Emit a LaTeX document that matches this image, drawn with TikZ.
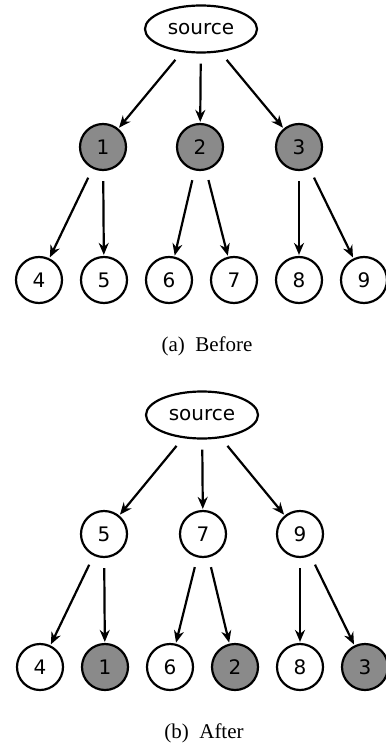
\documentclass[tikz,border=0pt]{standalone}
\usepackage{fontspec}
\setmainfont{Liberation Serif}
\setsansfont{DejaVu Sans}
\usetikzlibrary{arrows.meta,positioning,shapes.geometric}
\definecolor{nodegray}{RGB}{138,138,138}

\begin{document}
\begin{tikzpicture}[x=0.5pt,y=-0.5pt,
  vertex/.style={circle,draw,line width=1.1pt,minimum size=23pt,inner sep=0pt,font=\sffamily},
  moved/.style={vertex,fill=nodegray},
  srcnode/.style={ellipse,draw,line width=1.1pt,minimum width=56pt,minimum height=23.5pt,inner sep=0pt,font=\sffamily},
  link/.style={-{Stealth[length=6pt,width=5pt]},line width=1.1pt,shorten <=5pt,shorten >=0.5pt},
  caption/.style={font=\rmfamily\fontsize{10.5}{12}\selectfont}]
  \useasboundingbox (0,0) rectangle (385,743);

  % (a) before
  \node[srcnode] (srcA) at (201,29) {source};
  \node[moved] (a1) at (103,147) {1};
  \node[moved] (a2) at (200,147) {2};
  \node[moved] (a3) at (299,147) {3};
  \node[vertex] (a4) at (39,280) {4};
  \node[vertex] (a5) at (104,280) {5};
  \node[vertex] (a6) at (169,280) {6};
  \node[vertex] (a7) at (234,280) {7};
  \node[vertex] (a8) at (299,280) {8};
  \node[vertex] (a9) at (364,280) {9};
  \foreach \p/\c in {srcA/a1,srcA/a2,srcA/a3,a1/a4,a1/a5,a2/a6,a2/a7,a3/a8,a3/a9}
    \draw[link] (\p) -- (\c);
  \node[caption] (capA) at (207,346) {(a)\enspace Before};

  % (b) after
  \node[srcnode] (srcB) at (202,415) {source};
  \node[vertex] (b5) at (104,534) {5};
  \node[vertex] (b7) at (203,534) {7};
  \node[vertex] (b9) at (300,534) {9};
  \node[vertex] (b4) at (40,667) {4};
  \node[moved] (b1) at (105,667) {1};
  \node[vertex] (b6) at (170,667) {6};
  \node[moved] (b2) at (235,667) {2};
  \node[vertex] (b8) at (300,667) {8};
  \node[moved] (b3) at (365,667) {3};
  \foreach \p/\c in {srcB/b5,srcB/b7,srcB/b9,b5/b4,b5/b1,b7/b6,b7/b2,b9/b8,b9/b3}
    \draw[link] (\p) -- (\c);
  \node[caption] (capB) at (204,733) {(b)\enspace After};
\end{tikzpicture}
\end{document}
